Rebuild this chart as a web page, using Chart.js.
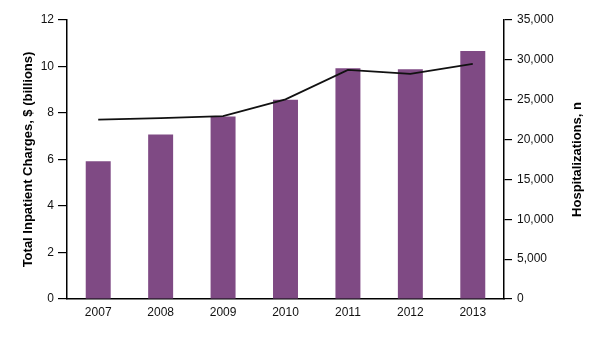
<!DOCTYPE html>
<html>
<head>
<meta charset="utf-8">
<script src="https://cdn.jsdelivr.net/npm/chart.js@4/dist/chart.umd.min.js"></script>
<style>
html,body{margin:0;padding:0;background:#fff;}
#c{display:block;}
</style>
</head>
<body>
<canvas id="c" width="600" height="358"></canvas>
<script>
const years = ['2007','2008','2009','2010','2011','2012','2013'];
const charges = [5.92, 7.07, 7.85, 8.57, 9.92, 9.88, 10.67];
const hospitalizations = [22500, 22700, 22950, 25050, 28750, 28250, 29500];
const leftTitle = 'Total Inpatient Charges, $ (billions)';
const rightTitle = 'Hospitalizations, n';

const FONT = '"Liberation Sans", Arial, Helvetica, sans-serif';

const titlePlugin = {
  id: 'sideTitles',
  afterDraw(chart) {
    const ctx = chart.ctx;
    const ca = chart.chartArea;
    const cy = (ca.top + ca.bottom) / 2;
    ctx.save();
    ctx.fillStyle = '#000';
    ctx.font = 'bold 13px ' + FONT;
    ctx.textAlign = 'center';
    ctx.textBaseline = 'middle';
    ctx.translate(28, cy);
    ctx.rotate(-Math.PI / 2);
    ctx.fillText(leftTitle, 0, 0);
    ctx.restore();
    ctx.save();
    ctx.fillStyle = '#000';
    ctx.font = 'bold 13px ' + FONT;
    ctx.textAlign = 'center';
    ctx.textBaseline = 'middle';
    ctx.translate(577, cy);
    ctx.rotate(-Math.PI / 2);
    ctx.fillText(rightTitle, 0, 0);
    ctx.restore();
  }
};

new Chart(document.getElementById('c'), {
  data: {
    labels: years,
    datasets: [
      {
        type: 'line',
        data: hospitalizations,
        yAxisID: 'y1',
        borderColor: '#111',
        borderWidth: 1.8,
        pointRadius: 0,
        tension: 0,
        fill: false,
        order: 0
      },
      {
        type: 'bar',
        data: charges,
        yAxisID: 'y',
        backgroundColor: '#7f4a84',
        borderWidth: 0,
        barPercentage: 0.4,
        categoryPercentage: 1.0,
        order: 1
      }
    ]
  },
  options: {
    responsive: false,
    devicePixelRatio: 1,
    animation: false,
    layout: { padding: { top: 20, left: 0, right: 0, bottom: 0 } },
    plugins: { legend: { display: false }, tooltip: { enabled: false } },
    scales: {
      x: {
        offset: true,
        grid: { display: false, drawTicks: false, tickLength: 0 },
        border: { display: true, color: '#000', width: 1.5 },
        ticks: { color: '#111', font: { family: FONT, size: 12 }, padding: 6, maxRotation: 0 },
        afterFit(s) { s.height = 59; }
      },
      y: {
        position: 'left',
        min: 0, max: 12,
        grid: { drawOnChartArea: false, drawTicks: true, tickLength: 9, color: '#000', lineWidth: 1.2 },
        border: { display: true, color: '#000', width: 1.5 },
        ticks: { stepSize: 2, color: '#111', font: { family: FONT, size: 12 }, padding: 4 },
        afterFit(s) { s.width = 67; }
      },
      y1: {
        position: 'right',
        min: 0, max: 35000,
        grid: { drawOnChartArea: false, drawTicks: true, tickLength: 8, color: '#000', lineWidth: 1.2 },
        border: { display: true, color: '#000', width: 1.5 },
        ticks: {
          stepSize: 5000, color: '#111', font: { family: FONT, size: 12 }, padding: 5,
          callback: v => Number(v).toLocaleString('en-US')
        },
        afterFit(s) { s.width = 96; }
      }
    }
  },
  plugins: [titlePlugin]
});
</script>
</body>
</html>
